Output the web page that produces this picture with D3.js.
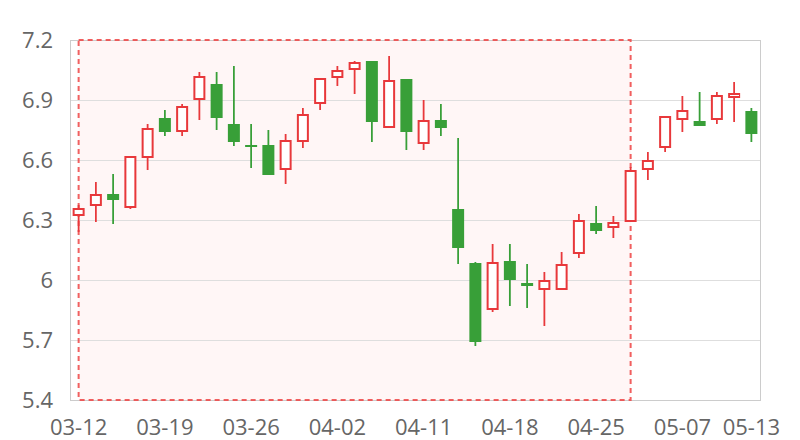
<!DOCTYPE html>
<html><head><meta charset="utf-8">
<script src="https://cdn.jsdelivr.net/npm/d3@7/dist/d3.min.js"></script>
<style>html,body{margin:0;padding:0;background:#fff;}svg{display:block;}</style>
</head><body><svg id="c" width="800" height="440"></svg>
<script>
const dates = ["03-12","03-13","03-14","03-15","03-18","03-19","03-20","03-21","03-22","03-25",
"03-26","03-27","03-28","03-29","04-01","04-02","04-03","04-04","04-08","04-09",
"04-11","04-12","04-15","04-16","04-17","04-18","04-19","04-22","04-23","04-24",
"04-25","04-26","04-29","04-30","05-06","05-07","05-08","05-09","05-10","05-13"];
const opens  = [6.32,6.37,6.43,6.36,6.61,6.81,6.74,6.90,6.98,6.78,
6.675,6.675,6.55,6.69,6.88,7.01,7.05,7.095,6.76,7.005,
6.68,6.80,6.355,6.085,5.85,6.095,5.985,5.95,5.95,6.13,
6.285,6.26,6.29,6.55,6.66,6.80,6.795,6.80,6.91,6.845];
const closes = [6.36,6.43,6.40,6.62,6.76,6.74,6.87,7.02,6.81,6.69,
6.67,6.525,6.70,6.83,7.01,7.05,7.09,6.79,7.00,6.74,
6.80,6.76,6.16,5.69,6.09,6.00,5.97,6.00,6.08,6.30,
6.245,6.29,6.55,6.60,6.82,6.85,6.77,6.925,6.935,6.73];
const lows   = [6.24,6.29,6.28,6.355,6.55,6.72,6.72,6.80,6.75,6.67,
6.56,6.525,6.48,6.66,6.85,6.97,6.93,6.69,6.76,6.65,
6.65,6.72,6.08,5.67,5.84,5.87,5.86,5.77,5.95,6.11,
6.23,6.21,6.29,6.50,6.64,6.74,6.77,6.78,6.79,6.69];
const highs  = [6.375,6.49,6.53,6.62,6.78,6.85,6.88,7.04,7.04,7.07,
6.78,6.75,6.73,6.86,7.01,7.07,7.095,7.095,7.12,7.005,
6.90,6.88,6.71,6.09,6.18,6.18,6.08,6.04,6.14,6.33,
6.37,6.32,6.565,6.64,6.82,6.92,6.94,6.94,6.99,6.86];
const yTicks = [5.4,5.7,6.0,6.3,6.6,6.9,7.2];
const xLabelIdx = [0,5,10,15,20,25,30,35,39];
const markStart = "03-12", markEnd = "04-29";

const RED = "#e8383b", GREEN = "#389f38";
const L = 70, R = 760, T = 40, B = 400;
const svg = d3.select("#c");
const x = d3.scaleBand().domain(dates).range([L, R]).padding(0);
const y = d3.scaleLinear().domain([5.4, 7.2]).range([B, T]);
const cx = d => x(d) + x.bandwidth() / 2;

// mark area fill
svg.append("rect").attr("x", cx(markStart)).attr("y", y(7.2))
  .attr("width", cx(markEnd) - cx(markStart)).attr("height", y(5.4) - y(7.2))
  .attr("fill", "#fff6f6");

// grid
svg.append("g").selectAll("line").data(yTicks).join("line")
  .attr("x1", L).attr("x2", R).attr("y1", d => y(d)).attr("y2", d => y(d))
  .attr("stroke", "#dedede").attr("stroke-width", 1).attr("shape-rendering", "crispEdges");
svg.append("rect").attr("x", L).attr("y", T).attr("width", R - L).attr("height", B - T)
  .attr("fill", "none").attr("stroke", "#cccccc").attr("stroke-width", 1).attr("shape-rendering", "crispEdges");

// mark area dashed border
svg.append("rect").attr("x", cx(markStart)).attr("y", y(7.2))
  .attr("width", cx(markEnd) - cx(markStart)).attr("height", y(5.4) - y(7.2))
  .attr("fill", "none").attr("stroke", "#ee4444").attr("stroke-opacity", 0.85)
  .attr("stroke-width", 2).attr("stroke-dasharray", "5,4");

// candles
const data = dates.map((d, i) => ({d, o: opens[i], c: closes[i], l: lows[i], h: highs[i]}));
const g = svg.append("g");
const bw = 12;
data.forEach(k => {
  const up = k.c >= k.o;
  const col = up ? RED : GREEN;
  const xc = cx(k.d);
  g.append("line").attr("x1", xc).attr("x2", xc).attr("y1", y(k.h)).attr("y2", y(k.l))
    .attr("stroke", col).attr("stroke-width", 1.8);
  const top = y(Math.max(k.o, k.c)), bot = y(Math.min(k.o, k.c));
  if (up) {
    g.append("rect").attr("x", xc - bw / 2 + 1).attr("y", top + 1)
      .attr("width", bw - 2).attr("height", Math.max(bot - top - 2, 1))
      .attr("fill", "#fff").attr("stroke", col).attr("stroke-width", 2);
  } else {
    g.append("rect").attr("x", xc - bw / 2).attr("y", top)
      .attr("width", bw).attr("height", Math.max(bot - top, 2))
      .attr("fill", col);
  }
});

// axis labels
const fmt = v => (Math.round(v * 10) / 10).toString();
svg.append("g").selectAll("text").data(yTicks).join("text")
  .attr("x", 53).attr("y", d => y(d)).attr("dy", "0.35em").attr("text-anchor", "end")
  .attr("font-family", "'Open Sans', sans-serif").attr("font-size", 22).attr("fill", "#666")
  .text(fmt);
svg.append("g").selectAll("text").data(xLabelIdx).join("text")
  .attr("x", i => cx(dates[i])).attr("y", 435).attr("text-anchor", "middle")
  .attr("font-family", "'Open Sans', sans-serif").attr("font-size", 22).attr("fill", "#666")
  .text(i => dates[i]);
</script></body></html>
